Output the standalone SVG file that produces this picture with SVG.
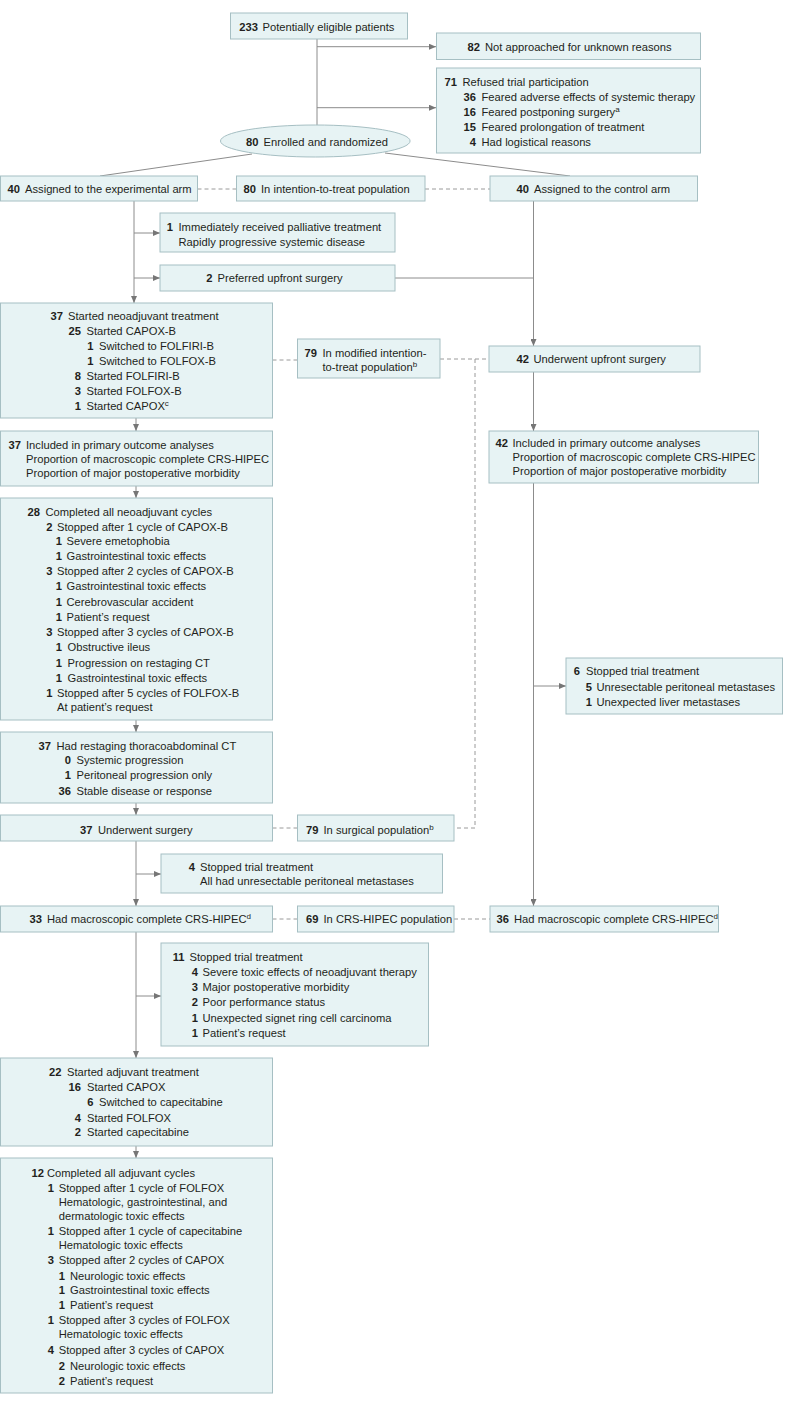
<svg xmlns="http://www.w3.org/2000/svg" width="785" height="1407" viewBox="0 0 785 1407">
<style>
.bx{fill:#e7f3f4;stroke:#a6bfc3;stroke-width:1}
.t{font-family:"Liberation Sans",Arial,sans-serif;font-size:11.2px;fill:#231f20}
.n{font-weight:bold;text-anchor:end}
.sup{font-size:8px}
.ln{fill:none;stroke:#8c8c8c;stroke-width:1}
.ar{fill:none;stroke:#8c8c8c;stroke-width:1;marker-end:url(#ah)}
.ds{fill:none;stroke:#9a9a9a;stroke-width:1;stroke-dasharray:4 3}
</style>
<defs>
<marker id="ah" markerWidth="7" markerHeight="6" refX="7" refY="3" orient="auto" markerUnits="userSpaceOnUse">
<path d="M0,0 L7,3 L0,6 z" fill="#767676"/>
</marker>
</defs>
<rect width="785" height="1407" fill="#ffffff"/>
<g id="connectors">
<path class="ln" d="M317,39 V125"/>
<path class="ar" d="M317,46.7 H436"/>
<path class="ar" d="M317,107.7 H436"/>
<path class="ln" d="M252,154 L100,176"/>
<path class="ln" d="M385,153 L570,176"/>
<path class="ds" d="M197.5,189 H236.5"/>
<path class="ds" d="M425,189 H490"/>
<path class="ar" d="M134,201 V303"/>
<path class="ar" d="M134,233 H160"/>
<path class="ar" d="M134,278 H160"/>
<path class="ln" d="M395,278 H533.5"/>
<path class="ar" d="M533.5,201 V346"/>
<path class="ar" d="M136,418 V431"/>
<path class="ds" d="M272.5,360 H297.5"/>
<path class="ds" d="M440,359 H489"/>
<path class="ds" d="M475,359 V828 H454"/>
<path class="ds" d="M272.5,828 H297.5"/>
<path class="ar" d="M136,486 V498"/>
<path class="ar" d="M136,720 V732"/>
<path class="ar" d="M136,803 V815"/>
<path class="ar" d="M136,841 V906"/>
<path class="ar" d="M136,874 H161"/>
<path class="ds" d="M272.5,919 H297.5"/>
<path class="ds" d="M454,919 H490"/>
<path class="ar" d="M533.5,372 V431"/>
<path class="ar" d="M533.5,483 V906"/>
<path class="ar" d="M533.5,686 H566"/>
<path class="ar" d="M136,932 V1058"/>
<path class="ar" d="M136,996 H161"/>
<path class="ar" d="M136,1146 V1158"/>
</g>
<g id="n233">
<rect class="bx" x="230.5" y="13" width="177" height="26"/>
<text class="t n" x="258" y="30.5">233</text>
<text class="t" x="262.5" y="30.5">Potentially eligible patients</text>
</g>
<g id="n82">
<rect class="bx" x="436.5" y="33" width="264" height="26.5"/>
<text class="t n" x="480" y="50.7">82</text>
<text class="t" x="485" y="50.7">Not approached for unknown reasons</text>
</g>
<g id="n71">
<rect class="bx" x="436.5" y="68" width="264" height="85"/>
<text class="t n" x="457" y="85.7">71</text>
<text class="t" x="462.5" y="85.7">Refused trial participation</text>
<text class="t n" x="476" y="101">36</text>
<text class="t" x="481.5" y="101">Feared adverse effects of systemic therapy</text>
<text class="t n" x="476" y="116">16</text>
<text class="t" x="481.5" y="116">Feared postponing surgery<tspan class="sup" dy="-4">a</tspan></text>
<text class="t n" x="476" y="131">15</text>
<text class="t" x="481.5" y="131">Feared prolongation of treatment</text>
<text class="t n" x="476" y="146.3">4</text>
<text class="t" x="481.5" y="146.3">Had logistical reasons</text>
</g>
<g id="n80">
<ellipse class="bx" cx="315.3" cy="141" rx="94.8" ry="16"/>
<text class="t n" x="258.5" y="145.7">80</text>
<text class="t" x="263.5" y="145.7">Enrolled and randomized</text>
</g>
<g id="nexp">
<rect class="bx" x="0.5" y="176" width="197" height="25"/>
<text class="t n" x="20" y="193">40</text>
<text class="t" x="25" y="193">Assigned to the experimental arm</text>
</g>
<g id="nitt">
<rect class="bx" x="236.5" y="176" width="188.5" height="25"/>
<text class="t n" x="256" y="193">80</text>
<text class="t" x="261" y="193">In intention-to-treat population</text>
</g>
<g id="nctl">
<rect class="bx" x="490" y="176" width="207.5" height="25"/>
<text class="t n" x="529" y="193">40</text>
<text class="t" x="534" y="193">Assigned to the control arm</text>
</g>
<g id="npall">
<rect class="bx" x="160" y="213" width="235" height="39"/>
<text class="t n" x="173" y="230.7">1</text>
<text class="t" x="178.5" y="230.7">Immediately received palliative treatment</text>
<text class="t" x="178.5" y="245.7">Rapidly progressive systemic disease</text>
</g>
<g id="npref">
<rect class="bx" x="160" y="265" width="235" height="26"/>
<text class="t n" x="212.5" y="281.7">2</text>
<text class="t" x="217.5" y="281.7">Preferred upfront surgery</text>
</g>
<g id="nneo">
<rect class="bx" x="0.5" y="303" width="272" height="115"/>
<text class="t n" x="63" y="319.7">37</text>
<text class="t" x="68" y="319.7">Started neoadjuvant treatment</text>
<text class="t n" x="81" y="334.7">25</text>
<text class="t" x="86.5" y="334.7">Started CAPOX-B</text>
<text class="t n" x="93.5" y="350">1</text>
<text class="t" x="99" y="350">Switched to FOLFIRI-B</text>
<text class="t n" x="93.5" y="365">1</text>
<text class="t" x="99" y="365">Switched to FOLFOX-B</text>
<text class="t n" x="81" y="379.7">8</text>
<text class="t" x="86.5" y="379.7">Started FOLFIRI-B</text>
<text class="t n" x="81" y="395">3</text>
<text class="t" x="86.5" y="395">Started FOLFOX-B</text>
<text class="t n" x="81" y="410">1</text>
<text class="t" x="86.5" y="410">Started CAPOX<tspan class="sup" dy="-4">c</tspan></text>
</g>
<g id="nmitt">
<rect class="bx" x="297.5" y="339" width="142.5" height="39"/>
<text class="t n" x="317" y="356.7">79</text>
<text class="t" x="322.5" y="356.7">In modified intention-</text>
<text class="t" x="322.5" y="370.7">to-treat population<tspan class="sup" dy="-4">b</tspan></text>
</g>
<g id="nups">
<rect class="bx" x="489" y="346" width="211" height="26"/>
<text class="t n" x="529" y="363.3">42</text>
<text class="t" x="533.5" y="363.3">Underwent upfront surgery</text>
</g>
<g id="ninc37">
<rect class="bx" x="0.5" y="431" width="272" height="55"/>
<text class="t n" x="21" y="449">37</text>
<text class="t" x="26" y="449">Included in primary outcome analyses</text>
<text class="t" x="26" y="463">Proportion of macroscopic complete CRS-HIPEC</text>
<text class="t" x="26" y="477">Proportion of major postoperative morbidity</text>
</g>
<g id="ninc42">
<rect class="bx" x="489" y="431" width="269.5" height="52"/>
<text class="t n" x="508" y="446.7">42</text>
<text class="t" x="512.5" y="446.7">Included in primary outcome analyses</text>
<text class="t" x="512.5" y="460.7">Proportion of macroscopic complete CRS-HIPEC</text>
<text class="t" x="512.5" y="475">Proportion of major postoperative morbidity</text>
</g>
<g id="ncomp28">
<rect class="bx" x="0.5" y="498" width="272" height="222"/>
<text class="t n" x="40" y="515.7">28</text>
<text class="t" x="45.5" y="515.7">Completed all neoadjuvant cycles</text>
<text class="t n" x="52.5" y="530.7">2</text>
<text class="t" x="57" y="530.7">Stopped after 1 cycle of CAPOX-B</text>
<text class="t n" x="62" y="545">1</text>
<text class="t" x="66.5" y="545">Severe emetophobia</text>
<text class="t n" x="62" y="560">1</text>
<text class="t" x="66.5" y="560">Gastrointestinal toxic effects</text>
<text class="t n" x="52.5" y="575.3">3</text>
<text class="t" x="57" y="575.3">Stopped after 2 cycles of CAPOX-B</text>
<text class="t n" x="62" y="590.3">1</text>
<text class="t" x="66.5" y="590.3">Gastrointestinal toxic effects</text>
<text class="t n" x="62" y="605.7">1</text>
<text class="t" x="66.5" y="605.7">Cerebrovascular accident</text>
<text class="t n" x="62" y="620.7">1</text>
<text class="t" x="66.5" y="620.7">Patient’s request</text>
<text class="t n" x="52.5" y="635.7">3</text>
<text class="t" x="57" y="635.7">Stopped after 3 cycles of CAPOX-B</text>
<text class="t n" x="62" y="651.3">1</text>
<text class="t" x="67.5" y="651.3">Obstructive ileus</text>
<text class="t n" x="62" y="666.7">1</text>
<text class="t" x="67.5" y="666.7">Progression on restaging CT</text>
<text class="t n" x="62" y="681.7">1</text>
<text class="t" x="67.5" y="681.7">Gastrointestinal toxic effects</text>
<text class="t n" x="52.5" y="697">1</text>
<text class="t" x="57" y="697">Stopped after 5 cycles of FOLFOX-B</text>
<text class="t" x="57" y="711.3">At patient’s request</text>
</g>
<g id="nstop6">
<rect class="bx" x="566" y="658" width="216.5" height="56"/>
<text class="t n" x="580" y="675">6</text>
<text class="t" x="586" y="675">Stopped trial treatment</text>
<text class="t n" x="592" y="690.7">5</text>
<text class="t" x="596.5" y="690.7">Unresectable peritoneal metastases</text>
<text class="t n" x="592" y="705.7">1</text>
<text class="t" x="596.5" y="705.7">Unexpected liver metastases</text>
</g>
<g id="nrestage">
<rect class="bx" x="0.5" y="732" width="272" height="71"/>
<text class="t n" x="51" y="750">37</text>
<text class="t" x="56.5" y="750">Had restaging thoracoabdominal CT</text>
<text class="t n" x="71" y="764.3">0</text>
<text class="t" x="76.5" y="764.3">Systemic progression</text>
<text class="t n" x="71" y="779.3">1</text>
<text class="t" x="76.5" y="779.3">Peritoneal progression only</text>
<text class="t n" x="71" y="794.7">36</text>
<text class="t" x="76.5" y="794.7">Stable disease or response</text>
</g>
<g id="nsurg">
<rect class="bx" x="0.5" y="815" width="272" height="26"/>
<text class="t n" x="92.5" y="834">37</text>
<text class="t" x="98" y="834">Underwent surgery</text>
</g>
<g id="nsurgpop">
<rect class="bx" x="297.5" y="815" width="156.5" height="26"/>
<text class="t n" x="318.5" y="834">79</text>
<text class="t" x="323.5" y="834">In surgical population<tspan class="sup" dy="-4">b</tspan></text>
</g>
<g id="nstop4">
<rect class="bx" x="161" y="854" width="281.5" height="39"/>
<text class="t n" x="195" y="870.7">4</text>
<text class="t" x="200" y="870.7">Stopped trial treatment</text>
<text class="t" x="200" y="885.3">All had unresectable peritoneal metastases</text>
</g>
<g id="ncrs33">
<rect class="bx" x="0.5" y="906" width="272" height="26"/>
<text class="t n" x="42" y="923">33</text>
<text class="t" x="47" y="923">Had macroscopic complete CRS-HIPEC<tspan class="sup" dy="-4">d</tspan></text>
</g>
<g id="ncrspop">
<rect class="bx" x="297.5" y="906" width="156.5" height="26"/>
<text class="t n" x="318.5" y="923">69</text>
<text class="t" x="323.5" y="923">In CRS-HIPEC population</text>
</g>
<g id="ncrs36">
<rect class="bx" x="490" y="906" width="228.5" height="26"/>
<text class="t n" x="509" y="923">36</text>
<text class="t" x="514" y="923">Had macroscopic complete CRS-HIPEC<tspan class="sup" dy="-4">d</tspan></text>
</g>
<g id="nstop11">
<rect class="bx" x="161" y="943" width="267.5" height="103"/>
<text class="t n" x="184.5" y="960.7">11</text>
<text class="t" x="189.5" y="960.7">Stopped trial treatment</text>
<text class="t n" x="198" y="976">4</text>
<text class="t" x="202.5" y="976">Severe toxic effects of neoadjuvant therapy</text>
<text class="t n" x="198" y="991.3">3</text>
<text class="t" x="202.5" y="991.3">Major postoperative morbidity</text>
<text class="t n" x="198" y="1006.3">2</text>
<text class="t" x="202.5" y="1006.3">Poor performance status</text>
<text class="t n" x="198" y="1021.7">1</text>
<text class="t" x="202.5" y="1021.7">Unexpected signet ring cell carcinoma</text>
<text class="t n" x="198" y="1036.7">1</text>
<text class="t" x="202.5" y="1036.7">Patient’s request</text>
</g>
<g id="nadj22">
<rect class="bx" x="0.5" y="1058" width="272" height="88"/>
<text class="t n" x="61.5" y="1075.7">22</text>
<text class="t" x="67" y="1075.7">Started adjuvant treatment</text>
<text class="t n" x="81" y="1090.7">16</text>
<text class="t" x="87" y="1090.7">Started CAPOX</text>
<text class="t n" x="93.5" y="1106.3">6</text>
<text class="t" x="99" y="1106.3">Switched to capecitabine</text>
<text class="t n" x="81" y="1121.7">4</text>
<text class="t" x="87" y="1121.7">Started FOLFOX</text>
<text class="t n" x="81" y="1136.3">2</text>
<text class="t" x="87" y="1136.3">Started capecitabine</text>
</g>
<g id="ncomp12">
<rect class="bx" x="0.5" y="1158" width="272" height="235"/>
<text class="t n" x="44" y="1176.7">12</text>
<text class="t" x="47" y="1176.7">Completed all adjuvant cycles</text>
<text class="t n" x="54" y="1191.7">1</text>
<text class="t" x="58.7" y="1191.7">Stopped after 1 cycle of FOLFOX</text>
<text class="t" x="58.7" y="1205.7">Hematologic, gastrointestinal, and</text>
<text class="t" x="58.7" y="1219.7">dermatologic toxic effects</text>
<text class="t n" x="54" y="1235">1</text>
<text class="t" x="58.7" y="1235">Stopped after 1 cycle of capecitabine</text>
<text class="t" x="58.7" y="1249">Hematologic toxic effects</text>
<text class="t n" x="54" y="1264">3</text>
<text class="t" x="58.7" y="1264">Stopped after 2 cycles of CAPOX</text>
<text class="t n" x="65" y="1279.7">1</text>
<text class="t" x="70" y="1279.7">Neurologic toxic effects</text>
<text class="t n" x="65" y="1294">1</text>
<text class="t" x="70" y="1294">Gastrointestinal toxic effects</text>
<text class="t n" x="65" y="1309">1</text>
<text class="t" x="70" y="1309">Patient’s request</text>
<text class="t n" x="54" y="1324.3">1</text>
<text class="t" x="58.7" y="1324.3">Stopped after 3 cycles of FOLFOX</text>
<text class="t" x="58.7" y="1338.3">Hematologic toxic effects</text>
<text class="t n" x="54" y="1354.3">4</text>
<text class="t" x="58.7" y="1354.3">Stopped after 3 cycles of CAPOX</text>
<text class="t n" x="65" y="1370">2</text>
<text class="t" x="70" y="1370">Neurologic toxic effects</text>
<text class="t n" x="65" y="1385">2</text>
<text class="t" x="70" y="1385">Patient’s request</text>
</g>
</svg>
